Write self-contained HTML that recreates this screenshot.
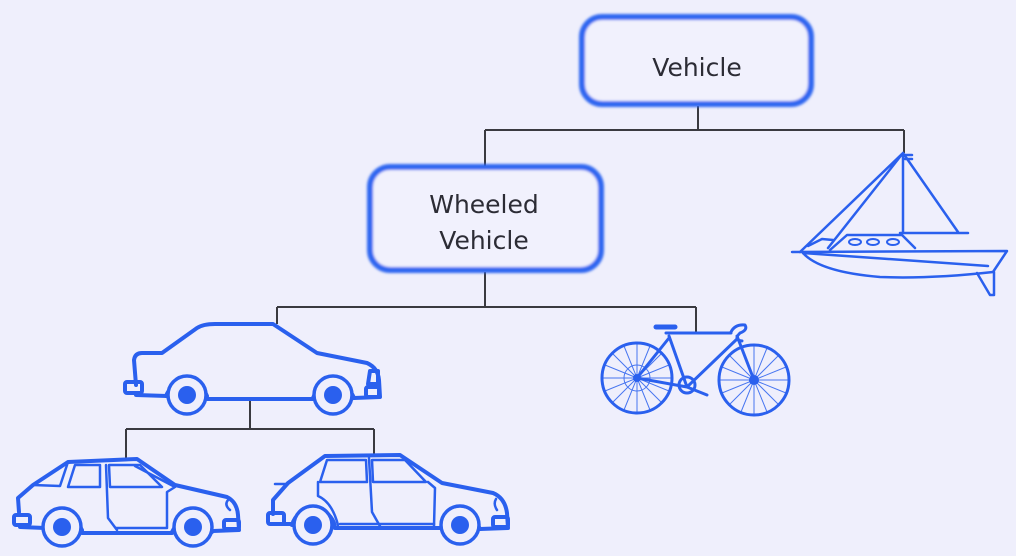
<!DOCTYPE html>
<html><head><meta charset="utf-8"><style>
html,body{margin:0;padding:0;background:#efeffc;}
svg{display:block}
text{font-family:"DejaVu Sans","Liberation Sans",sans-serif;fill:#2c2c35}
</style></head><body>
<svg width="1016" height="556" viewBox="0 0 1016 556" xmlns="http://www.w3.org/2000/svg">
<defs>
<filter id="bl" x="-10%" y="-10%" width="120%" height="120%"><feGaussianBlur stdDeviation="1.3"/></filter>
</defs>
<rect width="1016" height="556" fill="#efeffc"/>
<g stroke="#3a3a40" stroke-width="2" fill="none">
<path d="M698 106V130M485 130H904M485 130V166M904 130V153"/>
<path d="M485 272V307M277 307H696M277 307V324M696 307V333"/>
<path d="M250 400V429M126 429H374M126 429V458M374 429V455"/>
</g>
<g filter="url(#bl)">
<rect x="582" y="17" width="229" height="87" rx="20" fill="#f1f1fd" stroke="#2f66f0" stroke-width="6"/>
<rect x="370" y="167" width="231" height="103" rx="20" fill="#f1f1fd" stroke="#2f66f0" stroke-width="6"/>
</g>
<text x="697" y="76" font-size="25" text-anchor="middle">Vehicle</text>
<text x="484" y="213" font-size="25" text-anchor="middle">Wheeled</text>
<text x="484" y="249" font-size="25" text-anchor="middle">Vehicle</text>

<g stroke="#2a60ee" fill="none" stroke-linejoin="round" stroke-linecap="round">
<g stroke-width="4">
<path d="M136 385 L134 360 Q135 353 142 353 L162 353 L197 328 Q203 324 215 324 L273 324 L317 353 L367 363 Q378 368 379 380 L380 397 L354 398"/>
<path d="M167 396 L136 395"/>
<path d="M207 399 H313"/>
<path d="M166 396 A22 22 0 0 1 207 396"/>
<path d="M313 398 A22 22 0 0 1 354 398"/>
<rect x="125" y="382" width="17" height="11" rx="2"/>
<rect x="366" y="387" width="13" height="10" rx="2"/>
<path d="M370 371 H378 V384 H368 Z"/>
</g>
<g stroke-width="3.5" fill="#efeffc">
<circle cx="187" cy="395" r="19"/><circle cx="333" cy="395" r="19"/>
</g>
<g fill="#2a60ee" stroke="none"><circle cx="187" cy="395" r="9"/><circle cx="333" cy="395" r="9"/></g>

<g stroke-width="4">
<path d="M19 512 L18 498 L33 485 L68 462 L137 459 L175 485 L227 497 Q237 502 238 515 L239 530 L213 531"/>
<path d="M45 528 L20 527"/>
<path d="M82 533 H172"/>
<path d="M44 528 A22 22 0 0 1 82 530"/>
<path d="M172 532 A22 22 0 0 1 212 532"/>
<rect x="14" y="515" width="16" height="10" rx="2"/>
<rect x="224" y="520" width="15" height="9" rx="2"/>
</g>
<g stroke-width="2.5">
<path d="M33 485 L60 486 L68 462"/>
<path d="M68 487 L75 465 L100 465 L100 487 Z"/>
<path d="M110 487 L109 465 L140 465 L162 487 Z"/>
<path d="M106 465 L108 518 L117 530"/>
<path d="M135 466 L175 487 L167 492 L167 528"/>
<path d="M116 528 H166"/>
<path d="M230 510 Q224 505 228 500"/>
</g>
<g stroke-width="3.5" fill="#efeffc"><circle cx="62" cy="527" r="19"/><circle cx="193" cy="527" r="19"/></g>
<g fill="#2a60ee" stroke="none"><circle cx="62" cy="527" r="9"/><circle cx="193" cy="527" r="9"/></g>

<g stroke-width="4">
<path d="M273 514 L273 500 L288 483 L325 456 L400 455 L442 483 L493 493 Q505 498 507 513 L508 528 L480 529"/>
<path d="M292 524 L272 524"/>
<path d="M335 528 H441"/>
<path d="M292 525 A22 22 0 0 1 335 527"/>
<path d="M441 528 A22 22 0 0 1 480 529"/>
<rect x="268" y="513" width="16" height="11" rx="2"/>
<rect x="493" y="517" width="15" height="10" rx="2"/>
</g>
<g stroke-width="2.5">
<path d="M275 484 H288"/>
<path d="M320 482 L327 460 L366 460 L367 482 Z"/>
<path d="M373 482 L372 460 L405 460 L426 482 Z"/>
<path d="M369 458 L372 512 L381 528"/>
<path d="M318 482 L318 496 Q332 502 338 525"/>
<path d="M428 482 L435 488 L434 526"/>
<path d="M340 524 H434"/>
<path d="M497 510 Q493 504 496 499"/>
</g>
<g stroke-width="3.5" fill="#efeffc"><circle cx="313" cy="525" r="19"/><circle cx="460" cy="525" r="19"/></g>
<g fill="#2a60ee" stroke="none"><circle cx="313" cy="525" r="9"/><circle cx="460" cy="525" r="9"/></g>

<g stroke-width="3">
<circle cx="637" cy="378" r="35"/><circle cx="754" cy="380" r="35"/>
<path d="M666 333 H731 M669 336 L687 387 L737 339 M637 378 L687 387 M637 378 L669 338 M737 336 L754 380 M687 387 L707 395"/>
<path d="M656 327 H675" stroke-width="5"/>
<path d="M731 332 Q735 324 745 325 Q748 330 740 333 Q733 340 742 341"/>
<circle cx="687" cy="385" r="8"/>
</g>
<g stroke-width="1" opacity="0.85">
<path d="M637 343V413M602 378H672M612 353L662 403M662 353L612 403M624 346L650 410M650 346L624 410M605 365L669 391M669 365L605 391"/>
<path d="M754 345V415M719 380H789M729 355L779 405M779 355L729 405M741 348L767 412M767 348L741 412M722 367L786 393M786 367L722 393"/>
<circle cx="637" cy="378" r="13"/>
</g>
<g fill="#2a60ee" stroke="none"><circle cx="637" cy="378" r="4"/><circle cx="754" cy="380" r="5"/></g>

<g stroke-width="2.5">
<path d="M903 153 V233 M903 153 L958 232 M900 233 H968 M903 153 L800 252 M903 153 L828 248"/>
<path d="M792 252 L1007 251 L993 272 Q930 279 880 277 Q820 272 803 253"/>
<path d="M803 253 L988 266"/>
<path d="M977 273 L990 295 L994 295 L994 272"/>
<path d="M830 250 L847 235 L902 235 L915 248"/>
<path d="M808 246 L822 239 L833 240"/>
<path d="M905 155 H912 M905 159 H912"/>
</g>
<g stroke-width="2">
<ellipse cx="855" cy="242" rx="6" ry="3"/><ellipse cx="873" cy="242" rx="6" ry="3"/><ellipse cx="893" cy="242" rx="6" ry="3"/>
</g>
</g>
</svg>
</body></html>
